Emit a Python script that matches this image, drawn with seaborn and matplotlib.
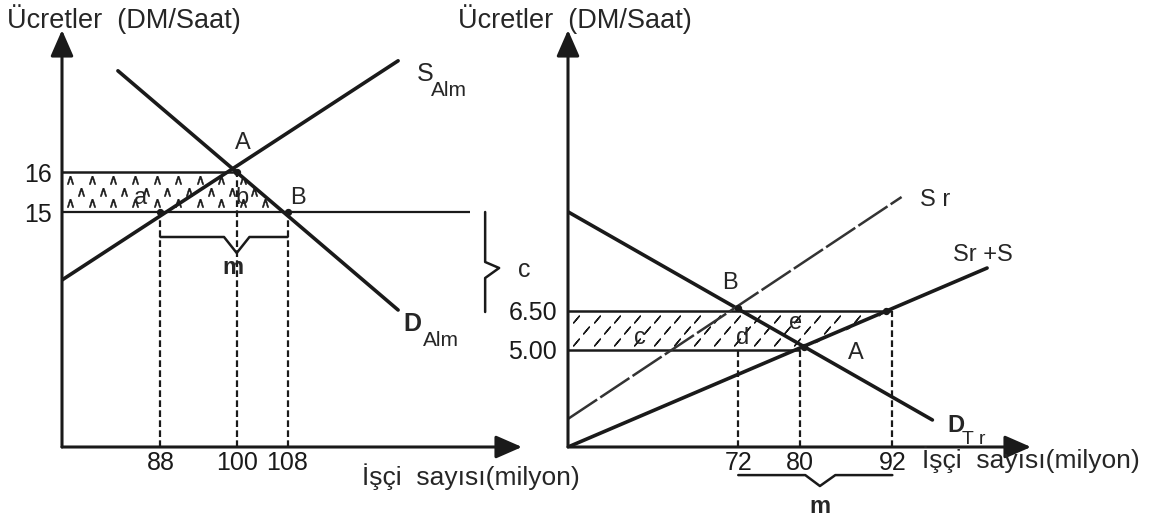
import numpy as np
import matplotlib.pyplot as plt
import seaborn as sns
from matplotlib.patches import Polygon

sns.set_theme(style="white")
plt.rcParams['font.family'] = ['Liberation Sans', 'DejaVu Sans']

# left panel: Almanya labour market
alm_wage_ticks = [16, 15]
alm_wage_labels = ["16", "15"]
alm_qty_ticks = [88, 100, 108]
alm_qty_labels = ["88", "100", "108"]
alm_supply_x = [72.5, 125.4]
alm_supply_y = [13.3, 18.78]
alm_demand_x = [81.3, 125.4]
alm_demand_y = [18.53, 12.55]
alm_floor_end = 136.7
alm_brace_x = [88, 98, 100, 102, 108]
alm_brace_y = [14.375, 14.375, 13.975, 14.375, 14.375]
alm_c_x = [139.1, 139.1, 141.3, 139.1, 139.1]
alm_c_y = [15.0, 13.75, 13.6, 13.35, 12.5]

# right panel: Turkish labour market
tr_wage_ticks = [6.5, 5.0]
tr_wage_labels = ["6.50", "5.00"]
tr_qty_ticks = [72, 80, 92]
tr_qty_labels = ["72", "80", "92"]
tr_demand_x = [49.9, 97.2]
tr_demand_y = [10.31, 2.31]
tr_sr_x = [49.9, 93.2]
tr_sr_y = [2.35, 10.88]
tr_srs_x = [49.9, 104.3]
tr_srs_y = [1.27, 8.15]
tr_brace_x = [72, 80.7, 82.6, 84.6, 92]
tr_brace_y = [0.19, 0.19, -0.23, 0.19, 0.19]

fig = plt.figure(figsize=(11.67, 5.2), dpi=100)
ax1 = fig.add_axes([62 / 1167, 73 / 520, 460 / 1167, 417 / 520])
ax2 = fig.add_axes([568 / 1167, 73 / 520, 463 / 1167, 417 / 520])
ax1.set_xlim(72.5, 144.9)
ax1.set_ylim(9.125, 19.55)
ax2.set_xlim(49.9, 110.0)
ax2.set_ylim(1.27, 17.3)

dash = (0, (3, 1.5))

for ax in (ax1, ax2):
    for s in ax.spines.values():
        s.set_visible(False)
    ax.set_facecolor("none")
    arrow = dict(arrowstyle="-|>,head_length=0.8,head_width=0.35", lw=2.2,
                 color="k", mutation_scale=20, shrinkA=0, shrinkB=0)
    ax.annotate("", xy=(1, 0), xytext=(0, 0), xycoords="axes fraction", arrowprops=arrow)
    ax.annotate("", xy=(0, 1), xytext=(0, 0), xycoords="axes fraction", arrowprops=arrow)
    ax.tick_params(length=0, labelsize=18, colors="k")

# ---- left panel
x0, y0 = ax1.get_xlim()[0], ax1.get_ylim()[0]
ax1.set_xticks(alm_qty_ticks, labels=alm_qty_labels)
ax1.set_yticks(alm_wage_ticks, labels=alm_wage_labels)
ax1.tick_params(axis="x", pad=3)
ax1.tick_params(axis="y", pad=7)

shade = Polygon([(x0, alm_wage_ticks[0]), (alm_qty_ticks[1], alm_wage_ticks[0]),
                 (alm_qty_ticks[2], alm_wage_ticks[1]), (x0, alm_wage_ticks[1])],
                closed=True, facecolor="none", edgecolor="none")
ax1.add_patch(shade)
gx, gy = np.meshgrid(np.arange(73.8, 110, 3.4), [15.8, 15.5, 15.22])
gx = gx + (np.arange(3)[:, None] % 2) * 1.7
sc = ax1.scatter(gx.ravel(), gy.ravel(), marker="$\\wedge$", s=32, color="k",
                 lw=0.4, edgecolors="k")
sc.set_clip_path(shade)

ax1.hlines(alm_wage_ticks[0], x0, alm_qty_ticks[1], color="k", lw=1.8)
ax1.hlines(alm_wage_ticks[1], x0, alm_floor_end, color="k", lw=1.6)
for q, w in zip(alm_qty_ticks, [15, 16, 15]):
    ax1.plot([q, q], [y0, w], color="k", lw=1.6, linestyle=dash)

sns.lineplot(x=alm_supply_x, y=alm_supply_y, ax=ax1, color="k", lw=2.6)
sns.lineplot(x=alm_demand_x, y=alm_demand_y, ax=ax1, color="k", lw=2.6)
ax1.scatter(alm_qty_ticks, [15, 16, 15], s=18, color="k", zorder=5)

ax1.plot(alm_brace_x, alm_brace_y, color="k", lw=1.8)
ax1.plot(alm_c_x, alm_c_y, color="k", lw=1.8, clip_on=False)
ax1.text(99.4, 13.6, "m", fontsize=17, fontweight="bold", ha="center", va="center")
ax1.text(145.3, 13.55, "c", fontsize=18, ha="center", va="center")

ax1.text(100.9, 16.73, "A", fontsize=17, ha="center", va="center")
ax1.text(84.8, 15.35, "a", fontsize=17, ha="center", va="center")
ax1.text(100.9, 15.35, "b", fontsize=17, ha="center", va="center")
ax1.text(109.7, 15.35, "B", fontsize=17, ha="center", va="center")
ax1.text(129.6, 18.45, "S", fontsize=18, ha="center", va="center")
ax1.text(133.4, 18.05, "Alm", fontsize=15, ha="center", va="center")
ax1.text(127.6, 12.2, "D", fontsize=18, fontweight="bold", ha="center", va="center")
ax1.text(132.2, 11.8, "Alm", fontsize=15, ha="center", va="center")

# ---- right panel
x0, y0 = ax2.get_xlim()[0], ax2.get_ylim()[0]
ax2.set_xticks(tr_qty_ticks, labels=tr_qty_labels)
ax2.set_yticks(tr_wage_ticks, labels=tr_wage_labels)
ax2.tick_params(axis="x", pad=3)
ax2.tick_params(axis="y", pad=8)

shade2 = Polygon([(x0, tr_wage_ticks[0]), (tr_qty_ticks[2], tr_wage_ticks[0]),
                  (tr_qty_ticks[1], tr_wage_ticks[1]), (x0, tr_wage_ticks[1])],
                 closed=True, facecolor="none", edgecolor="none")
ax2.add_patch(shade2)
hx, hy = np.meshgrid(np.arange(51.0, 95, 2.6), [6.2, 5.75, 5.3])
hx = hx + (np.arange(3)[:, None] % 2) * 1.3
sc2 = ax2.scatter(hx.ravel(), hy.ravel(), marker=(2, 2, -40), s=40, color="k", lw=1.0)
sc2.set_clip_path(shade2)

ax2.hlines(tr_wage_ticks[0], x0, tr_qty_ticks[2], color="k", lw=1.8)
ax2.hlines(tr_wage_ticks[1], x0, tr_qty_ticks[1], color="k", lw=1.8)
for q, w in zip(tr_qty_ticks, [5.0, 5.0, 6.5]):
    ax2.plot([q, q], [y0, w], color="k", lw=1.6, linestyle=dash)

sns.lineplot(x=tr_demand_x, y=tr_demand_y, ax=ax2, color="k", lw=2.6)
sns.lineplot(x=tr_sr_x, y=tr_sr_y, ax=ax2, color="#333333", lw=1.8, linestyle=(0, (14, 1.5)))
sns.lineplot(x=tr_srs_x, y=tr_srs_y, ax=ax2, color="k", lw=2.6)
ax2.scatter([72, 80.5, 91.2], [6.6, 5.1, 6.5], s=18, color="k", zorder=5)

ax2.plot(tr_brace_x, tr_brace_y, color="k", lw=1.8, clip_on=False)
ax2.text(82.6, -1.0, "m", fontsize=17, fontweight="bold", ha="center", va="center")

ax2.text(70.9, 7.58, "B", fontsize=17, ha="center", va="center")
ax2.text(59.3, 5.46, "c", fontsize=17, ha="center", va="center")
ax2.text(72.6, 5.46, "d", fontsize=17, ha="center", va="center")
ax2.text(79.4, 6.04, "e", fontsize=17, ha="center", va="center")
ax2.text(87.2, 4.88, "A", fontsize=17, ha="center", va="center")
ax2.text(97.6, 10.77, "S r", fontsize=17, ha="center", va="center")
ax2.text(103.7, 8.65, "Sr +S", fontsize=17, ha="center", va="center")
ax2.text(100.3, 2.08, "D", fontsize=17, fontweight="bold", ha="center", va="center")
ax2.text(102.6, 1.55, "T r", fontsize=14, ha="center", va="center")

# axis titles
fig.text(7 / 1167, 1 - 28 / 520, "Ücretler  (DM/Saat)", fontsize=19.5, va="baseline")
fig.text(458 / 1167, 1 - 28 / 520, "Ücretler  (DM/Saat)", fontsize=19.5, va="baseline")
fig.text(362 / 1167, 1 - 485 / 520, "İşçi  sayısı(milyon)", fontsize=19, va="baseline")
fig.text(922 / 1167, 1 - 468 / 520, "İşçi  sayısı(milyon)", fontsize=19, va="baseline")

fig.savefig("out.png", dpi=100)
